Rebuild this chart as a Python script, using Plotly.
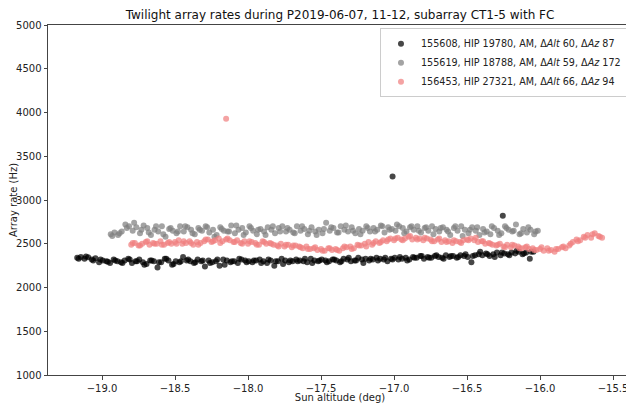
import plotly.graph_objects as go

black_x = [-19.170, -19.145, -19.120, -19.095, -19.070, -19.045, -19.020, -18.995, -18.970, -18.945,
           -18.920, -18.895, -18.870, -18.845, -18.820, -18.795, -18.770, -18.745, -18.720, -18.695,
           -18.670, -18.645, -18.620, -18.595, -18.570, -18.545, -18.520, -18.495, -18.470, -18.445,
           -18.420, -18.395, -18.370, -18.345, -18.320, -18.295, -18.270, -18.245, -18.220, -18.195,
           -18.170, -18.145, -18.120, -18.095, -18.070, -18.045, -18.020, -17.995, -17.970, -17.945,
           -17.920, -17.895, -17.870, -17.845, -17.820, -17.795, -17.770, -17.745, -17.720, -17.695,
           -17.670, -17.645, -17.620, -17.595, -17.570, -17.545, -17.520, -17.495, -17.470, -17.445,
           -17.420, -17.395, -17.370, -17.345, -17.320, -17.295, -17.270, -17.245, -17.220, -17.195,
           -17.170, -17.145, -17.120, -17.095, -17.070, -17.045, -17.020, -16.995, -16.970, -16.945,
           -16.920, -16.895, -16.870, -16.845, -16.820, -16.795, -16.770, -16.745, -16.720, -16.695,
           -16.670, -16.645, -16.620, -16.595, -16.570, -16.545, -16.520, -16.495, -16.470, -16.445,
           -16.420, -16.395, -16.370, -16.345, -16.320, -16.295, -16.270, -16.245, -16.220, -16.195,
           -16.170, -16.145, -16.120, -16.095, -16.070, -16.045,
           -17.010, -16.255]
black_y = [2340, 2350, 2330, 2345, 2320, 2335, 2290, 2310, 2300, 2280,
           2320, 2300, 2290, 2310, 2330, 2280, 2300, 2320, 2290, 2270,
           2310, 2300, 2230, 2290, 2330, 2310, 2260, 2300, 2290, 2350,
           2310, 2300, 2280, 2320, 2300, 2240, 2310, 2290, 2300, 2250,
           2320, 2310, 2290, 2300, 2280, 2320, 2310, 2300, 2290, 2310,
           2320, 2300, 2280, 2310, 2250, 2300, 2330, 2310, 2290, 2300,
           2320, 2310, 2300, 2290, 2330, 2310, 2300, 2320, 2310, 2300,
           2320, 2310, 2290, 2330, 2320, 2300, 2310, 2340, 2320, 2330,
           2310, 2320, 2340, 2330, 2320, 2300, 2330, 2340, 2320, 2330,
           2340, 2320, 2350, 2340, 2360, 2330, 2350, 2340, 2360, 2350,
           2340, 2370, 2350, 2360, 2340, 2370, 2360, 2350, 2290, 2370,
           2380, 2370, 2390, 2360, 2380, 2400, 2370, 2390, 2380, 2400,
           2390, 2410, 2380, 2400, 2330, 2410,
           3270, 2820]
black_x2 = [-19.16, -19.11, -19.06, -19.01, -18.96, -18.91, -18.86, -18.81, -18.76, -18.71,
            -18.66, -18.61, -18.56, -18.51, -18.46, -18.41, -18.36, -18.31, -18.26, -18.21,
            -18.16, -18.11, -18.06, -18.01, -17.96, -17.91, -17.86, -17.81, -17.76, -17.71,
            -17.66, -17.61, -17.56, -17.51, -17.46, -17.41, -17.36, -17.31, -17.26, -17.21,
            -17.16, -17.11, -17.06, -17.01, -16.96, -16.91, -16.86, -16.81, -16.76, -16.71,
            -16.66, -16.61, -16.56, -16.51, -16.46, -16.41, -16.36, -16.31, -16.26, -16.21,
            -16.16, -16.11, -16.06]
black_y2 = [2330, 2355, 2310, 2320, 2295, 2310, 2280, 2320, 2300, 2260,
            2310, 2290, 2330, 2270, 2300, 2320, 2290, 2310, 2280, 2320,
            2260, 2300, 2330, 2290, 2310, 2280, 2320, 2300, 2270, 2310,
            2300, 2330, 2280, 2310, 2290, 2320, 2300, 2340, 2310, 2280,
            2330, 2310, 2340, 2320, 2350, 2310, 2340, 2360, 2340, 2370,
            2330, 2360, 2350, 2380, 2360, 2410, 2380, 2350, 2400, 2370,
            2420, 2390, 2410]

gray_x = [-18.940, -18.915, -18.890, -18.865, -18.840, -18.815, -18.790, -18.765, -18.740, -18.715,
          -18.690, -18.665, -18.640, -18.615, -18.590, -18.565, -18.540, -18.515, -18.490, -18.465,
          -18.440, -18.415, -18.390, -18.365, -18.340, -18.315, -18.290, -18.265, -18.240, -18.215,
          -18.190, -18.165, -18.140, -18.115, -18.090, -18.065, -18.040, -18.015, -17.990, -17.965,
          -17.940, -17.915, -17.890, -17.865, -17.840, -17.815, -17.790, -17.765, -17.740, -17.715,
          -17.690, -17.665, -17.640, -17.615, -17.590, -17.565, -17.540, -17.515, -17.490, -17.465,
          -17.440, -17.415, -17.390, -17.365, -17.340, -17.315, -17.290, -17.265, -17.240, -17.215,
          -17.190, -17.165, -17.140, -17.115, -17.090, -17.065, -17.040, -17.015, -16.990, -16.965,
          -16.940, -16.915, -16.890, -16.865, -16.840, -16.815, -16.790, -16.765, -16.740, -16.715,
          -16.690, -16.665, -16.640, -16.615, -16.590, -16.565, -16.540, -16.515, -16.490, -16.465,
          -16.440, -16.415, -16.390, -16.365, -16.340, -16.315, -16.290, -16.265, -16.240, -16.215,
          -16.190, -16.165, -16.140, -16.115, -16.090, -16.065, -16.040, -16.015]
gray_y = [2610, 2630, 2600, 2640, 2720, 2700, 2650, 2690, 2620, 2710,
          2680, 2600, 2660, 2640, 2700, 2580, 2670, 2650, 2620, 2700,
          2640, 2690, 2660, 2610, 2680, 2650, 2700, 2630, 2660, 2600,
          2690, 2650, 2640, 2710, 2620, 2660, 2680, 2630, 2700, 2650,
          2610, 2670, 2640, 2690, 2660, 2620, 2680, 2700, 2640, 2660,
          2630, 2700, 2650, 2670, 2610, 2690, 2640, 2660, 2620, 2740,
          2650, 2680, 2630, 2700, 2660, 2640, 2690, 2620, 2670, 2650,
          2700, 2640, 2680, 2660, 2710, 2630, 2690, 2670, 2650, 2700,
          2680, 2640, 2690, 2660, 2700, 2630, 2680, 2650, 2700, 2670,
          2640, 2690, 2660, 2600, 2680, 2650, 2700, 2660, 2620, 2690,
          2650, 2600, 2670, 2640, 2610, 2680, 2650, 2620, 2700, 2660,
          2640, 2720, 2610, 2670, 2630, 2660, 2610, 2650]
gray_x2 = [-18.93, -18.88, -18.83, -18.78, -18.73, -18.68, -18.63, -18.58, -18.53, -18.48,
           -18.43, -18.38, -18.33, -18.28, -18.23, -18.18, -18.13, -18.08, -18.03, -17.98,
           -17.93, -17.88, -17.83, -17.78, -17.73, -17.68, -17.63, -17.58, -17.53, -17.48,
           -17.43, -17.38, -17.33, -17.28, -17.23, -17.18, -17.13, -17.08, -17.03, -16.98,
           -16.93, -16.88, -16.83, -16.78, -16.73, -16.68, -16.63, -16.58, -16.53, -16.48,
           -16.43, -16.38, -16.33, -16.28, -16.23, -16.18, -16.13, -16.08, -16.03]
gray_y2 = [2590, 2620, 2680, 2740, 2660, 2630, 2700, 2610, 2680, 2640,
           2700, 2620, 2660, 2690, 2580, 2670, 2640, 2710, 2600, 2680,
           2660, 2600, 2700, 2640, 2680, 2620, 2700, 2650, 2600, 2670,
           2690, 2630, 2710, 2650, 2610, 2680, 2640, 2700, 2660, 2720,
           2620, 2700, 2650, 2690, 2610, 2680, 2640, 2700, 2590, 2660,
           2690, 2630, 2700, 2600, 2680, 2650, 2620, 2690, 2640]

pink_x = [-18.800, -18.775, -18.750, -18.725, -18.700, -18.675, -18.650, -18.625, -18.600, -18.575,
          -18.550, -18.525, -18.500, -18.475, -18.450, -18.425, -18.400, -18.375, -18.350, -18.325,
          -18.300, -18.275, -18.250, -18.225, -18.200, -18.175, -18.150, -18.125, -18.100, -18.075,
          -18.050, -18.025, -18.000, -17.975, -17.950, -17.925, -17.900, -17.875, -17.850, -17.825,
          -17.800, -17.775, -17.750, -17.725, -17.700, -17.675, -17.650, -17.625, -17.600, -17.575,
          -17.550, -17.525, -17.500, -17.475, -17.450, -17.425, -17.400, -17.375, -17.350, -17.325,
          -17.300, -17.275, -17.250, -17.225, -17.200, -17.175, -17.150, -17.125, -17.100, -17.075,
          -17.050, -17.025, -17.000, -16.975, -16.950, -16.925, -16.900, -16.875, -16.850, -16.825,
          -16.800, -16.775, -16.750, -16.725, -16.700, -16.675, -16.650, -16.625, -16.600, -16.575,
          -16.550, -16.525, -16.500, -16.475, -16.450, -16.425, -16.400, -16.375, -16.350, -16.325,
          -16.300, -16.275, -16.250, -16.225, -16.200, -16.175, -16.150, -16.125, -16.100, -16.075,
          -16.050, -16.025, -16.000, -15.975, -15.950, -15.925, -15.900, -15.875, -15.850, -15.825,
          -15.800, -15.775, -15.750, -15.725, -15.700, -15.675, -15.650, -15.625, -15.600, -15.575,
          -18.150]
pink_y = [2490, 2510, 2480, 2500, 2520, 2490, 2510, 2500, 2530, 2490,
          2510, 2500, 2520, 2540, 2500, 2510, 2530, 2490, 2520, 2510,
          2530, 2550, 2520, 2540, 2560, 2530, 2550, 2540, 2520, 2540,
          2510, 2530, 2500, 2520, 2510, 2490, 2530, 2500, 2510, 2490,
          2480, 2500, 2470, 2490, 2460, 2480, 2470, 2450, 2470, 2440,
          2450, 2430, 2440, 2420, 2450, 2430, 2440, 2420, 2450, 2460,
          2470, 2450, 2490, 2480, 2500, 2520, 2490, 2530, 2510, 2540,
          2530, 2560, 2540, 2570, 2550, 2560, 2580, 2550, 2570, 2560,
          2540, 2560, 2550, 2530, 2550, 2520, 2540, 2530, 2510, 2530,
          2520, 2540, 2550, 2560, 2540, 2520, 2530, 2500, 2510, 2490,
          2480, 2500, 2470, 2490, 2460, 2480, 2470, 2450, 2460, 2440,
          2450, 2430, 2440, 2420, 2450, 2430, 2410, 2440, 2460, 2450,
          2480, 2520, 2550, 2540, 2580, 2600, 2570, 2620, 2590, 2570,
          3930]
pink_x2 = [-18.79, -18.74, -18.69, -18.64, -18.59, -18.54, -18.49, -18.44, -18.39, -18.34,
           -18.29, -18.24, -18.19, -18.14, -18.09, -18.04, -17.99, -17.94, -17.89, -17.84,
           -17.79, -17.74, -17.69, -17.64, -17.59, -17.54, -17.49, -17.44, -17.39, -17.34,
           -17.29, -17.24, -17.19, -17.14, -17.09, -17.04, -16.99, -16.94, -16.89, -16.84,
           -16.79, -16.74, -16.69, -16.64, -16.59, -16.54, -16.49, -16.44, -16.39, -16.34,
           -16.29, -16.24, -16.19, -16.14, -16.09, -16.04, -15.99, -15.94, -15.89, -15.84,
           -15.79, -15.74, -15.69, -15.64, -15.59]
pink_y2 = [2510, 2480, 2530, 2500, 2490, 2520, 2500, 2530, 2510, 2490,
           2550, 2530, 2510, 2560, 2520, 2500, 2530, 2490, 2520, 2500,
           2470, 2490, 2480, 2460, 2440, 2460, 2420, 2450, 2430, 2470,
           2440, 2480, 2470, 2510, 2520, 2550, 2560, 2540, 2590, 2550,
           2570, 2530, 2560, 2520, 2540, 2510, 2540, 2570, 2530, 2500,
           2490, 2460, 2490, 2450, 2470, 2430, 2460, 2420, 2440, 2470,
           2500, 2530, 2570, 2610, 2580]

names = ["155608, HIP 19780, AM, \u0394<i>Alt</i> 60, \u0394<i>Az</i> 87",
         "155619, HIP 18788, AM, \u0394<i>Alt</i> 59, \u0394<i>Az</i> 172",
         "156453, HIP 27321, AM, \u0394<i>Alt</i> 66, \u0394<i>Az</i> 94"]
colors = ["rgba(0,0,0,0.72)", "rgba(128,128,128,0.72)", "rgba(240,128,128,0.72)"]

y_ticks = [1000, 1500, 2000, 2500, 3000, 3500, 4000, 4500, 5000]
x_ticks = [-19.0, -18.5, -18.0, -17.5, -17.0, -16.5, -16.0, -15.5]

series_x = [black_x + black_x2, gray_x + gray_x2, pink_x + pink_x2]
series_y = [black_y + black_y2, gray_y + gray_y2, pink_y + pink_y2]

fig = go.Figure()
for xs, ys, nm, c in zip(series_x, series_y, names, colors):
    fig.add_trace(go.Scatter(x=xs, y=ys, mode="markers", name=nm,
                             marker=dict(size=6, color=c, line=dict(width=0))))

# The page body has an 8px default margin, so the figure is sized to fit the window.
W, H = 626, 395
font = "DejaVu Sans, Verdana, sans-serif"
fig.update_layout(
    width=W, height=H,
    margin=dict(l=40, r=2, t=17, b=28, autoexpand=False),
    paper_bgcolor="white", plot_bgcolor="white",
    font=dict(family=font, size=10, color="#222"),
    title=dict(text="Twilight array rates during P2019-06-07, 11-12, subarray CT1-5 with FC",
               x=0.5, xref="paper", xanchor="center", y=1 - 7 / H, yanchor="middle",
               font=dict(size=12, color="#111")),
    legend=dict(x=0.9914, y=0.991, xanchor="right", yanchor="top",
                bordercolor="#ccc", borderwidth=1, bgcolor="rgba(255,255,255,0.8)",
                font=dict(size=9.6), itemsizing="trace", itemwidth=30, tracegroupgap=0),
    showlegend=True,
)
fig.update_xaxes(range=[-19.37, -15.37], tickvals=x_ticks,
                 ticktext=["\u221219.0", "\u221218.5", "\u221218.0", "\u221217.5",
                           "\u221217.0", "\u221216.5", "\u221216.0", "\u221215.5"],
                 showgrid=False, zeroline=False, showline=True, mirror=True, automargin=False,
                 linecolor="#444", linewidth=1, ticks="outside", ticklen=3.5, tickcolor="#444",
                 title=dict(text="Sun altitude (deg)", standoff=0, font=dict(size=10)))
fig.update_yaxes(range=[1000, 5000], tickvals=y_ticks,
                 showgrid=False, zeroline=False, showline=True, mirror=True, automargin=False,
                 linecolor="#444", linewidth=1, ticks="outside", ticklen=3.5, tickcolor="#444",
                 title=dict(text="Array rate (Hz)", standoff=0, font=dict(size=10)))

fig.write_html("out.html")
